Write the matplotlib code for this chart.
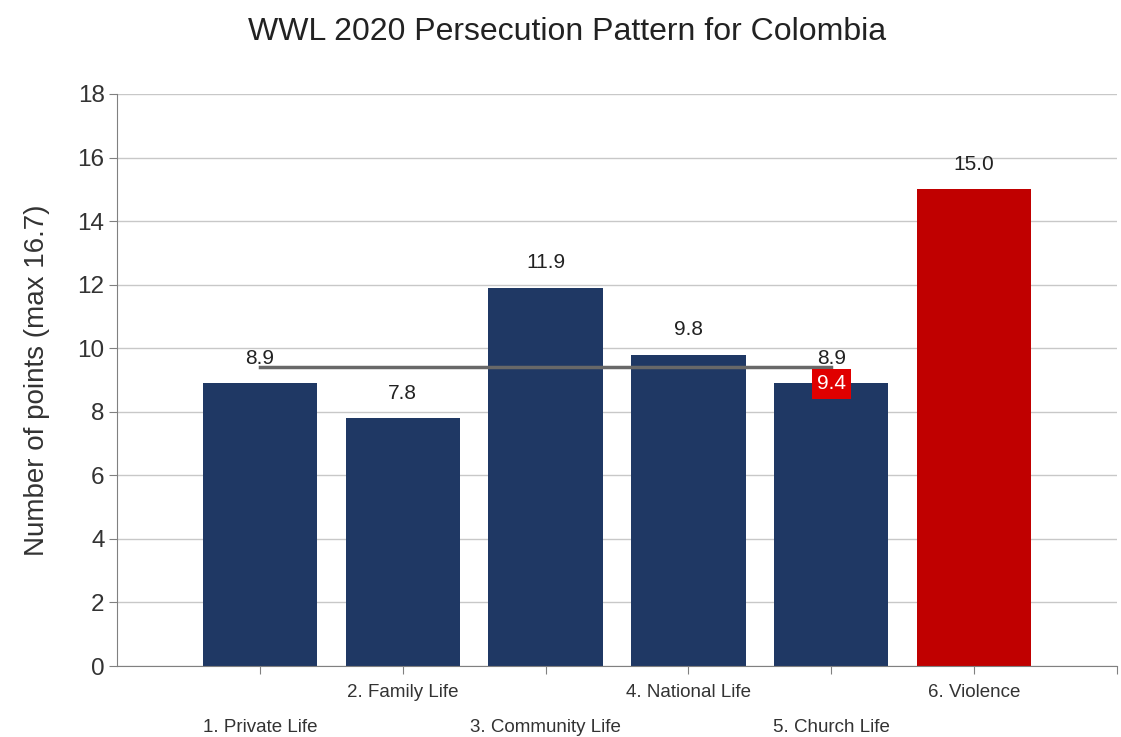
import numpy as np
import matplotlib.pyplot as plt

plt.rcParams['font.family'] = ['Liberation Sans', 'DejaVu Sans']

categories = ['1. Private Life', '2. Family Life', '3. Community Life',
              '4. National Life', '5. Church Life', '6. Violence']
values = [8.9, 7.8, 11.9, 9.8, 8.9, 15.0]
colors = ['#1f3864', '#1f3864', '#1f3864', '#1f3864', '#1f3864', '#c00000']
average = 9.4

fig = plt.figure(figsize=(11.21, 7.37), dpi=100)
ax = fig.add_axes([0.1044, 0.0963, 0.892, 0.7762])

x = np.arange(1, len(values) + 1)
ax.bar(x, values, width=0.8, color=colors, zorder=2)

for xi, v in zip(x, values):
    ax.annotate(f'{v:.1f}', (xi, v), xytext=(0, 18), textcoords='offset points',
                ha='center', va='center', fontsize=15, color='#222222', zorder=4)

# average line over the first five categories
ax.plot([1, 5], [average, average], color='#686868', lw=2.5, zorder=3)
ax.annotate(f'{average:.1f}', (5, average), xytext=(0, -12), textcoords='offset points',
            ha='center', va='center', fontsize=15, color='white', zorder=5,
            bbox=dict(boxstyle='square,pad=0.25', fc='#e00000', ec='none'))

ax.set_xlim(0, 7)
ax.set_ylim(0, 18)
ax.set_yticks(np.arange(0, 19, 2))
ax.set_xticks(np.arange(1, 8))
ax.set_xticklabels([])
ax.yaxis.grid(True, color='#c8c8c8', lw=1)
ax.set_axisbelow(True)

for i, (xi, lab) in enumerate(zip(x, categories)):
    off = -19 if i % 2 else -44
    ax.annotate(lab, (xi, 0), xytext=(0, off), textcoords='offset points',
                ha='center', va='center', fontsize=13.5,
                color='#333333', annotation_clip=False)

for s in ['top', 'right']:
    ax.spines[s].set_visible(False)
for s in ['left', 'bottom']:
    ax.spines[s].set_color('#808080')
ax.tick_params(axis='both', colors='#808080', labelcolor='#333333', labelsize=17.5,
               length=6, pad=3)

ax.set_ylabel('Number of points (max 16.7)', fontsize=20, color='#333333', va='center')
ax.yaxis.set_label_coords(-0.08, 0.5)
fig.text(0.506, 0.957, 'WWL 2020 Persecution Pattern for Colombia', fontsize=23,
         color='#222222', ha='center', va='center')

fig.savefig('out.png', dpi=100)
